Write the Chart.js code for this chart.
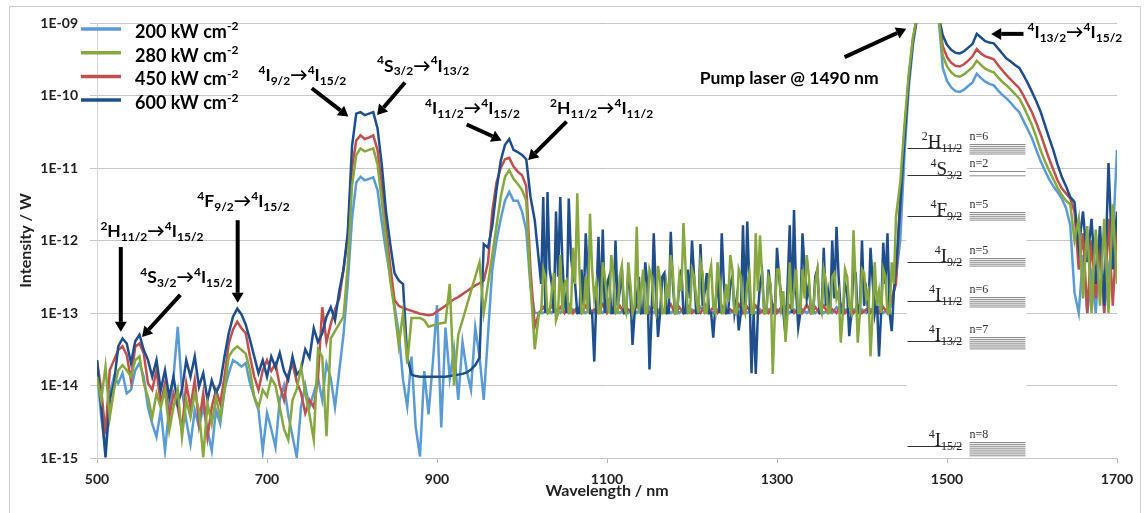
<!DOCTYPE html>
<html>
<head>
<meta charset="utf-8">
<script src="https://cdn.jsdelivr.net/npm/chart.js@4.4.1/dist/chart.umd.min.js"></script>
<style>
  html, body { margin: 0; padding: 0; background: #fff; }
  #wrap { width: 1144px; height: 513px; }
</style>
</head>
<body>
<div id="wrap"><canvas id="myChart" width="1144" height="513"></canvas></div>
<script>
// wavelength grids in nm (the two high-power scans are sampled finer in the noisy NIR band)
const wlCoarse = [
  500,505,510,515,520,525,530,535,540,545,550,555,560,565,570,575,580,585,590,595,
  600,605,610,615,620,625,630,635,640,645,650,655,660,665,670,675,680,685,690,695,
  700,705,710,715,720,725,730,735,740,745,750,755,760,765,770,775,780,785,790,795,
  800,805,810,815,820,825,830,835,840,845,850,855,860,865,870,875,880,885,890,895,
  900,905,910,915,920,925,930,935,940,945,950,955,960,965,970,975,980,985,990,995,
  1000,1005,1010,1015,1020,1025,1030,1035,1040,1045,1050,1055,1060,1065,1070,1075,1080,1085,1090,1095,
  1100,1105,1110,1115,1120,1125,1130,1135,1140,1145,1150,1155,1160,1165,1170,1175,1180,1185,1190,1195,
  1200,1205,1210,1215,1220,1225,1230,1235,1240,1245,1250,1255,1260,1265,1270,1275,1280,1285,1290,1295,
  1300,1305,1310,1315,1320,1325,1330,1335,1340,1345,1350,1355,1360,1365,1370,1375,1380,1385,1390,1395,
  1400,1405,1410,1415,1420,1425,1430,1435,1440,1445,1450,1455,1460,1465,1470,1475,1480,1485,1490,1495,
  1500,1505,1510,1515,1520,1525,1530,1535,1540,1545,1550,1555,1560,1565,1570,1575,1580,1585,1590,1595,
  1600,1605,1610,1615,1620,1625,1630,1635,1640,1645,1650,1655,1660,1665,1670,1675,1680,1685,1690,1695,
  1700
];

const wlFine = [
  500,505,510,515,520,525,530,535,540,545,550,555,560,565,570,575,580,585,590,595,
  600,605,610,615,620,625,630,635,640,645,650,655,660,665,670,675,680,685,690,695,
  700,705,710,715,720,725,730,735,740,745,750,755,760,765,770,775,780,785,790,795,
  800,805,810,815,820,825,830,835,840,845,850,855,860,865,870,875,880,885,890,895,
  900,905,910,915,920,925,930,935,940,945,950,955,960,965,970,975,980,985,990,995,
  1000,1005,1010,1015,1020,
  1022.5,1025,1027.5,1030,1032.5,1035,1037.5,1040,1042.5,1045,1047.5,1050,1052.5,1055,1057.5,1060,
  1062.5,1065,1067.5,1070,1072.5,1075,1077.5,1080,1082.5,1085,1087.5,1090,1092.5,1095,1097.5,1100,
  1102.5,1105,1107.5,1110,1112.5,1115,1117.5,1120,1122.5,1125,1127.5,1130,1132.5,1135,1137.5,1140,
  1142.5,1145,1147.5,1150,1152.5,1155,1157.5,1160,1162.5,1165,1167.5,1170,1172.5,1175,1177.5,1180,
  1182.5,1185,1187.5,1190,1192.5,1195,1197.5,1200,1202.5,1205,1207.5,1210,1212.5,1215,1217.5,1220,
  1222.5,1225,1227.5,1230,1232.5,1235,1237.5,1240,1242.5,1245,1247.5,1250,1252.5,1255,1257.5,1260,
  1262.5,1265,1267.5,1270,1272.5,1275,1277.5,1280,1282.5,1285,1287.5,1290,1292.5,1295,1297.5,1300,
  1302.5,1305,1307.5,1310,1312.5,1315,1317.5,1320,1322.5,1325,1327.5,1330,1332.5,1335,1337.5,1340,
  1342.5,1345,1347.5,1350,1352.5,1355,1357.5,1360,1362.5,1365,1367.5,1370,1372.5,1375,1377.5,1380,
  1382.5,1385,1387.5,1390,1392.5,1395,1397.5,1400,1402.5,1405,1407.5,1410,1412.5,1415,1417.5,1420,
  1422.5,1425,1427.5,1430,1432.5,1435,1437.5,1440,
  1445,1450,1455,1460,1465,1470,1475,1480,1485,1490,1495,
  1500,1505,1510,1515,1520,1525,1530,1535,1540,1545,1550,1555,1560,1565,1570,1575,1580,1585,1590,1595,
  1600,1605,1610,1615,1620,1625,1630,1635,1640,1645,1650,1655,1660,1665,1670,1675,1680,1685,1690,1695,
  1700
];

// log10 of intensity (W)
const log200 = [
  // 500-700
  -13.79,-14.44,-14.90,-14.11,-13.88,-13.97,-13.83,-14.11,-14.06,-13.79,-13.69,
  -13.88,-14.30,-14.53,-14.71,-14.34,-14.90,-14.30,-13.88,-13.19,-14.06,
  -14.48,-14.81,-14.34,-14.57,-14.30,-14.62,-14.90,-14.34,-14.53,-14.06,
  -13.83,-13.65,-13.69,-13.74,-13.69,-13.97,-14.16,-14.34,-14.90,-14.38,
  // 705-800
  -14.60,-14.85,-14.20,-14.00,-14.40,-14.70,-14.99,-14.30,-14.00,-14.30,
  -14.10,-13.90,-14.20,-13.70,-13.90,-14.30,-13.80,-13.30,-12.60,-11.70,
  // 805-850
  -11.20,-11.12,-11.17,-11.15,-11.13,-11.30,-11.75,-12.15,-12.50,-12.90,
  // 855-1020
  -13.27,-13.92,-14.29,-13.60,-14.58,-14.98,-13.80,-14.40,-13.70,-12.89,
  -14.58,-13.20,-13.90,-13.50,-14.20,-13.40,-13.80,-14.06,-13.20,-13.60,
  -14.20,-13.30,-12.40,-12.00,-11.70,-11.45,-11.33,-11.45,-11.45,-11.60,
  -11.86,-12.64,-13.00,-13.00,
  // 1025-1440
  -13.00,-12.95,-13.00,-12.95,-13.00,-12.92,-13.00,-12.95,
  -13.00,-12.95,-13.00,-12.95,-13.00,-12.95,-13.00,-12.92,
  -13.00,-12.95,-13.00,-12.95,-13.00,-12.95,-13.00,-12.95,
  -13.00,-12.92,-13.00,-12.95,-13.00,-12.95,-13.00,-12.95,
  -13.00,-12.95,-13.00,-12.95,-13.00,-12.92,-13.00,-12.95,
  -13.00,-12.95,-13.00,-12.95,-13.00,-12.95,-13.00,-12.92,
  -13.00,-12.95,-13.00,-12.95,-13.00,-12.95,-13.00,-12.95,
  -13.00,-12.92,-13.00,-12.95,-13.00,-12.95,-13.00,-12.95,
  -13.00,-12.95,-13.00,-12.95,-13.00,-12.92,-13.00,-12.95,
  -13.00,-12.95,-13.00,-12.95,-13.00,-12.95,-13.00,-12.92,
  -13.00,-12.95,-12.90,-12.50,
  // 1445-1495 pump
  -12.00,-10.80,-9.90,-9.30,-8.92,-8.60,-8.40,-8.40,-8.60,-8.90,-9.62,
  // 1500-1645
  -9.80,-9.89,-9.94,-9.95,-9.92,-9.87,-9.82,-9.70,-9.76,-9.81,
  -9.84,-9.86,-9.93,-9.99,-10.04,-10.10,-10.17,-10.23,-10.35,-10.47,
  -10.59,-10.75,-10.90,-11.03,-11.15,-11.25,-11.33,-11.42,-11.55,-11.79,
  // 1650-1700
  -12.72,-13.00,-12.20,-13.00,-12.50,-13.00,-12.10,-13.00,-12.40,-12.00,-10.75
];

const log450 = [
  -13.65,-14.06,-14.67,-13.79,-13.65,-13.51,-13.46,-13.58,-13.93,-13.46,-13.42,
  -13.56,-13.97,-14.06,-13.79,-14.25,-13.97,-14.44,-14.11,-14.30,-14.62,
  -13.97,-14.30,-13.93,-14.53,-14.11,-14.71,-14.30,-14.06,-14.25,-13.88,
  -13.42,-13.23,-13.12,-13.21,-13.28,-13.60,-13.88,-14.06,-13.79,-13.65,
  -13.80,-13.70,-14.00,-14.20,-13.85,-13.70,-13.95,-14.10,-14.38,-14.20,
  -14.30,-13.90,-12.92,-13.40,-13.15,-12.95,-12.80,-12.40,-11.95,-11.00,
  -10.62,-10.55,-10.60,-10.58,-10.55,-10.75,-11.25,-11.85,-12.35,-12.82,
  -12.90,-12.93,-12.95,-12.97,-12.99,-13.01,-13.02,-13.03,-13.02,-12.98,
  -12.94,-12.90,-12.85,-12.81,-12.78,-12.74,-12.70,-12.66,-12.62,-12.59,
  -12.55,-12.30,-11.60,-11.20,-11.00,-10.88,-10.86,-10.98,-11.05,-11.10,
  -11.25,-12.40,-13.19,-13.00,
  -12.92,-13.00,-12.90,-13.00,-12.92,-13.00,-12.88,-13.00,
  -12.92,-13.00,-12.90,-13.00,-12.95,-13.00,-12.88,-13.00,
  -12.92,-13.00,-12.90,-13.00,-12.95,-13.00,-12.88,-13.00,
  -12.92,-13.00,-12.90,-13.00,-12.95,-13.00,-12.88,-13.00,
  -12.92,-13.00,-12.90,-13.00,-12.95,-13.00,-12.88,-13.00,
  -12.92,-13.00,-12.90,-13.00,-12.95,-13.00,-12.88,-13.00,
  -12.92,-13.00,-12.90,-13.00,-12.95,-13.00,-12.88,-13.00,
  -12.92,-13.00,-12.90,-13.00,-12.95,-13.00,-12.88,-13.00,
  -12.92,-13.00,-12.90,-13.00,-12.95,-13.00,-12.88,-13.00,
  -12.92,-13.00,-12.90,-13.00,-12.95,-13.00,-12.88,-13.00,
  -12.92,-13.00,-12.80,-12.60,
  -11.40,-10.50,-9.75,-9.22,-8.90,-8.60,-8.40,-8.40,-8.60,-8.90,-9.32,
  -9.47,-9.55,-9.59,-9.60,-9.57,-9.52,-9.46,-9.36,-9.42,-9.46,
  -9.48,-9.50,-9.58,-9.65,-9.72,-9.78,-9.84,-9.90,-10.00,-10.12,
  -10.23,-10.38,-10.53,-10.70,-10.87,-11.02,-11.17,-11.28,-11.35,-11.42,
  -11.60,-12.40,-11.90,-13.00,-12.00,-12.80,-12.00,-13.00,-11.70,-12.90,-11.80
];

const log280 = [
  -13.88,-14.20,-13.74,-14.44,-14.06,-13.79,-13.72,-13.79,-13.88,-13.65,-13.60,
  -13.97,-14.16,-14.44,-14.11,-14.30,-14.06,-14.62,-14.30,-14.06,-14.71,
  -14.20,-14.44,-14.11,-14.34,-14.99,-14.25,-14.53,-14.16,-14.44,-14.06,
  -13.60,-13.51,-13.46,-13.51,-13.56,-13.79,-14.16,-14.30,-14.06,-14.15,
  -13.90,-14.00,-14.30,-14.60,-14.75,-14.20,-14.05,-13.75,-14.10,-14.40,
  -14.75,-13.50,-13.60,-14.70,-13.35,-13.25,-13.15,-13.05,-12.35,-11.25,
  -10.82,-10.73,-10.77,-10.75,-10.73,-10.95,-11.45,-12.00,-12.55,-12.95,
  -13.45,-13.00,-13.70,-13.07,-13.07,-13.07,-13.10,-13.19,-13.17,-13.15,
  -13.14,-13.13,-12.60,-14.00,-13.30,-13.10,-12.90,-12.70,-12.50,-12.30,
  -13.00,-12.60,-12.20,-11.80,-11.40,-11.12,-11.03,-11.15,-11.22,-11.30,
  -11.45,-12.60,-13.50,-13.00,
  // 1022.5-1440 every 2.5 nm
  -13.00,-12.40,-12.50,-13.00,-13.00,-12.70,-12.45,-13.10,-13.00,-12.20,-13.00,-12.60,-12.55,-13.00,-13.00,-12.10,
  -12.60,-11.35,-12.40,-13.00,-13.00,-12.50,-13.00,-11.63,-12.40,-12.80,-12.60,-13.00,-13.00,-12.30,-12.50,-12.80,
  -13.00,-12.20,-12.45,-13.00,-13.00,-12.50,-12.35,-12.90,-13.00,-12.30,-12.60,-13.00,-12.90,-11.81,-13.00,-12.70,
  -12.40,-13.00,-13.00,-12.40,-12.50,-12.90,-13.00,-12.35,-12.55,-13.00,-13.00,-12.60,-12.80,-12.20,-12.45,-13.00,
  -13.00,-12.50,-12.70,-11.76,-12.40,-13.00,-13.00,-12.40,-12.50,-12.80,-13.00,-12.30,-12.45,-13.00,-13.00,-12.50,
  -12.35,-12.90,-13.00,-12.30,-12.55,-13.00,-13.00,-12.60,-12.85,-12.20,-12.40,-13.00,-13.00,-12.40,-12.50,-12.90,
  -13.00,-12.60,-12.45,-13.00,-13.00,-11.90,-12.70,-11.93,-12.50,-13.00,-13.00,-12.50,-12.60,-13.84,-13.00,-12.40,
  -12.40,-12.90,-12.70,-13.40,-13.00,-12.30,-12.95,-12.70,-12.40,-13.00,-13.00,-12.40,-12.80,-12.20,-12.50,-13.00,
  -13.00,-12.60,-12.40,-12.90,-13.00,-12.40,-12.55,-13.00,-13.00,-12.50,-12.45,-12.80,-12.70,-13.41,-13.00,-12.40,
  -12.50,-12.90,-13.00,-11.86,-12.60,-13.41,-13.00,-12.40,-12.45,-12.80,-12.70,-13.60,-13.00,-12.30,-12.90,-12.70,
  -13.00,-12.40,-12.50,-13.00,-13.00,-12.30,-12.60,-11.67,
  // 1445-1700
  -11.20,-10.40,-9.70,-9.20,-8.88,-8.60,-8.40,-8.40,-8.60,-8.90,-9.45,
  -9.60,-9.68,-9.73,-9.74,-9.71,-9.66,-9.61,-9.52,-9.58,-9.63,
  -9.66,-9.68,-9.75,-9.81,-9.86,-9.92,-9.98,-10.04,-10.15,-10.28,
  -10.41,-10.57,-10.75,-10.90,-11.03,-11.15,-11.27,-11.37,-11.45,-11.50,
  -12.00,-11.70,-12.80,-11.80,-13.00,-11.85,-12.90,-11.70,-13.00,-11.50,-12.60
];

const log600 = [
  -13.65,-14.30,-14.99,-14.20,-13.97,-13.46,-13.35,-13.42,-13.69,-13.39,-13.30,
  -13.51,-13.65,-13.88,-13.65,-14.06,-13.79,-14.16,-13.88,-14.25,-14.06,
  -13.65,-13.88,-13.60,-14.02,-13.83,-14.20,-13.93,-14.11,-13.97,-13.60,
  -13.28,-13.05,-12.94,-13.02,-13.16,-13.37,-13.60,-13.83,-13.65,-13.88,
  -13.60,-13.75,-13.55,-13.80,-13.92,-13.60,-13.85,-13.78,-13.50,-13.62,
  -13.21,-13.40,-13.28,-13.05,-12.92,-13.10,-12.70,-12.40,-11.90,-10.70,
  -10.25,-10.23,-10.27,-10.25,-10.23,-10.45,-10.95,-11.60,-12.05,-12.45,
  -12.55,-12.60,-13.60,-13.85,-13.87,-13.88,-13.88,-13.88,-13.88,-13.88,
  -13.88,-13.88,-13.87,-13.86,-13.85,-13.84,-13.82,-13.78,-13.72,-13.62,
  -12.05,-12.10,-11.80,-11.30,-10.90,-10.68,-10.60,-10.75,-10.78,-10.82,
  -10.88,-11.40,-11.72,-12.30,
  // 1022.5-1440 every 2.5 nm
  -12.60,-11.40,-13.00,-11.33,-12.40,-12.60,-13.00,-11.60,-12.50,-11.40,-12.30,-12.80,-13.00,-11.42,-12.20,-12.50,
  -12.60,-13.00,-13.00,-12.40,-12.90,-11.90,-12.50,-13.00,-13.00,-13.67,-12.80,-11.95,-13.00,-11.85,-13.00,-12.60,
  -12.50,-13.00,-13.00,-12.00,-12.90,-12.70,-12.40,-13.00,-13.00,-12.45,-12.70,-13.44,-13.00,-12.80,-12.50,-13.00,
  -13.00,-12.30,-12.60,-13.78,-13.00,-11.90,-12.70,-13.33,-13.00,-12.50,-12.45,-13.00,-13.00,-11.88,-12.60,-13.00,
  -13.00,-12.60,-12.40,-13.00,-13.00,-12.40,-12.80,-12.00,-12.50,-13.00,-13.00,-12.05,-12.90,-12.70,-12.45,-13.00,
  -13.00,-13.34,-12.90,-12.50,-13.00,-11.90,-12.60,-13.00,-13.00,-12.60,-12.50,-13.00,-12.80,-13.24,-13.00,-11.79,
  -12.90,-11.74,-12.60,-13.83,-13.00,-13.84,-13.00,-12.60,-12.45,-13.00,-13.00,-12.40,-12.70,-13.00,-13.00,-12.10,
  -12.50,-12.80,-13.00,-13.31,-12.60,-11.79,-13.00,-11.58,-12.70,-13.20,-13.00,-11.90,-12.40,-12.80,-12.60,-13.00,
  -13.00,-12.50,-12.40,-13.00,-13.00,-12.10,-12.90,-12.70,-13.00,-12.00,-12.80,-11.81,-12.50,-13.00,-13.00,-12.60,
  -12.70,-13.32,-13.00,-12.40,-12.45,-13.00,-13.00,-12.00,-12.90,-12.70,-13.00,-12.10,-12.55,-13.00,-12.80,-13.60,
  -13.00,-12.03,-12.60,-11.90,-13.00,-13.25,-12.70,-12.40,
  // 1445-1700
  -11.51,-10.60,-9.80,-9.25,-8.90,-8.60,-8.40,-8.40,-8.60,-8.90,-9.17,
  -9.30,-9.37,-9.41,-9.42,-9.39,-9.34,-9.29,-9.15,-9.20,-9.25,
  -9.27,-9.28,-9.35,-9.42,-9.49,-9.53,-9.58,-9.62,-9.72,-9.83,
  -9.95,-10.08,-10.22,-10.40,-10.58,-10.75,-10.95,-11.12,-11.25,-11.40,
  -11.47,-12.10,-11.60,-12.30,-11.70,-12.60,-11.80,-12.90,-10.93,-12.40,-11.60
];

const seriesNames = ['200 kW cm^-2', '280 kW cm^-2', '450 kW cm^-2', '600 kW cm^-2'];
const seriesColors = ['#5b9bd5', '#86a83e', '#c0504d', '#1f4e8c'];
const seriesLogs = [log200, log280, log450, log600];
const seriesGrid = [wlCoarse, wlFine, wlCoarse, wlFine];
const drawOrder = [3, 0, 2, 1]; // green on top, light blue at the bottom

const xTicks = [500, 700, 900, 1100, 1300, 1500, 1700];
const yTicks = [1e-15, 1e-14, 1e-13, 1e-12, 1e-11, 1e-10, 1e-9];
const yTickLabels = ['1E-15', '1E-14', '1E-13', '1E-12', '1E-11', '1E-10', '1E-09'];

// annotations: label start (nm, log10 W) and arrow from/to
const notes = [
  { text: '^2H_11/2→^4I_15/2', at: [504, -11.95], from: [528, -12.09], to: [528, -13.26] },
  { text: '^4S_3/2→^4I_15/2', at: [551, -12.59], from: [598, -12.75], to: [553, -13.33] },
  { text: '^4F_9/2→^4I_15/2', at: [618, -11.54], from: [665.5, -11.72], to: [665.5, -12.86] },
  { text: '^4I_9/2→^4I_15/2', at: [690, -9.80], from: [752.7, -9.90], to: [795.7, -10.29] },
  { text: '^4S_3/2→^4I_13/2', at: [829.5, -9.67], from: [862.4, -9.82], to: [829.5, -10.27] },
  { text: '^4I_11/2→^4I_15/2', at: [886, -10.26], from: [935, -10.40], to: [976, -10.62] },
  { text: '^2H_11/2→^4I_11/2', at: [1033, -10.26], from: [1052.4, -10.36], to: [1007.3, -10.89] },
  { text: 'Pump laser @ 1490 nm', at: [1209, -9.84], from: [1379.5, -9.47], to: [1452, -9.08] },
  { text: '^4I_13/2→^4I_15/2', at: [1594.7, -9.21], from: [1590, -9.15], to: [1552, -9.15] }
];

// Er3+ energy level inset
const levels = [
  { name: '^2H_11/2', n: 6, e: -10.72 },
  { name: '^4S_3/2', n: 2, e: -11.10 },
  { name: '^4F_9/2', n: 5, e: -11.66 },
  { name: '^4I_9/2', n: 5, e: -12.30 },
  { name: '^4I_11/2', n: 6, e: -12.83 },
  { name: '^4I_13/2', n: 7, e: -13.38 },
  { name: '^4I_15/2', n: 8, e: -14.84 }
];

seriesLogs.forEach((s, i) => {
  if (s.length !== seriesGrid[i].length) throw new Error('series ' + i + ' has ' + s.length + ' of ' + seriesGrid[i].length + ' points');
});

function richText(ctx, str, x, y, size, family, weight, align, ratio) {
  const parts = [];
  let i = 0;
  while (i < str.length) {
    const c = str[i];
    if (c === '^' || c === '_') {
      let t = '';
      i++;
      while (i < str.length && /[0-9\/\-]/.test(str[i])) { t += str[i]; i++; }
      parts.push({ t: t, m: c === '^' ? 'sup' : 'sub' });
    } else {
      let t = '';
      while (i < str.length && str[i] !== '^' && str[i] !== '_') { t += str[i]; i++; }
      parts.push({ t: t, m: 'n' });
    }
  }
  const small = Math.round(size * (ratio || 0.66));
  const fontFor = m => weight + ' ' + (m === 'n' ? size : small) + 'px ' + family;
  let w = 0;
  parts.forEach(p => { ctx.font = fontFor(p.m); p.w = ctx.measureText(p.t).width; w += p.w; });
  let cx = align === 'right' ? x - w : x;
  ctx.textAlign = 'left';
  ctx.textBaseline = 'alphabetic';
  parts.forEach(p => {
    ctx.font = fontFor(p.m);
    const dy = p.m === 'sup' ? -size * 0.42 : (p.m === 'sub' ? size * 0.22 : 0);
    ctx.fillText(p.t, cx, y + dy);
    cx += p.w;
  });
}

function arrow(ctx, x1, y1, x2, y2) {
  const a = Math.atan2(y2 - y1, x2 - x1);
  const hl = 10, hw = 6;
  const bx = x2 - hl * Math.cos(a), by = y2 - hl * Math.sin(a);
  ctx.strokeStyle = '#000';
  ctx.fillStyle = '#000';
  ctx.lineWidth = 4;
  ctx.lineCap = 'butt';
  ctx.beginPath(); ctx.moveTo(x1, y1); ctx.lineTo(bx, by); ctx.stroke();
  ctx.beginPath();
  ctx.moveTo(x2, y2);
  ctx.lineTo(bx + hw * Math.sin(a), by - hw * Math.cos(a));
  ctx.lineTo(bx - hw * Math.sin(a), by + hw * Math.cos(a));
  ctx.closePath();
  ctx.fill();
}

const decor = {
  id: 'decor',
  beforeDatasetsDraw(chart) {
    const ctx = chart.ctx;
    const sx = chart.scales.x, sy = chart.scales.y;
    const px = v => sx.getPixelForValue(v);
    const py = v => sy.getPixelForValue(Math.pow(10, v));
    ctx.save();
    // white inset box hides the grid lines
    ctx.fillStyle = '#fff';
    ctx.fillRect(px(1452.4), py(-10.41), px(1593.5) - px(1452.4), py(-14.98) - py(-10.41));
    levels.forEach(l => {
      const y = Math.round(py(l.e)) + 0.5;
      ctx.strokeStyle = '#333';
      ctx.lineWidth = 1;
      ctx.beginPath(); ctx.moveTo(px(1453.5), y); ctx.lineTo(px(1517), y); ctx.stroke();
      ctx.fillStyle = '#222';
      richText(ctx, l.name, px(1518), y - 1, 19, '"Liberation Serif"', 'normal', 'right', 0.62);
      const gap = l.n === 2 ? 4.3 : 1.9;
      const top = y - 4;
      ctx.strokeStyle = '#8a8a8a';
      for (let k = 0; k < l.n; k++) {
        const yy = top + k * gap;
        ctx.beginPath(); ctx.moveTo(px(1526.5), yy); ctx.lineTo(px(1592.3), yy); ctx.stroke();
      }
      ctx.fillStyle = '#333';
      ctx.font = '12px "Liberation Serif"';
      ctx.textAlign = 'left';
      ctx.textBaseline = 'alphabetic';
      ctx.fillText('n=' + l.n, px(1526.5), top - 5);
    });
    ctx.restore();
  },
  afterDatasetsDraw(chart) {
    const ctx = chart.ctx;
    const sx = chart.scales.x, sy = chart.scales.y;
    const px = v => sx.getPixelForValue(v);
    const py = v => sy.getPixelForValue(Math.pow(10, v));
    ctx.save();
    notes.forEach(n => {
      arrow(ctx, px(n.from[0]), py(n.from[1]), px(n.to[0]), py(n.to[1]));
      ctx.fillStyle = '#000';
      richText(ctx, n.text, px(n.at[0]), py(n.at[1]), 17.5, 'Lato', 'bold', 'left');
    });
    // legend
    seriesNames.forEach((name, i) => {
      const base = 38 + i * 23.7;
      ctx.strokeStyle = seriesColors[i];
      ctx.lineWidth = 3.5;
      ctx.beginPath(); ctx.moveTo(81, base - 9); ctx.lineTo(121, base - 9); ctx.stroke();
      ctx.fillStyle = '#000';
      richText(ctx, name, 135, base, 18, 'Lato', 'bold', 'left');
    });
    ctx.restore();
  },
  afterDraw(chart) {
    const ctx = chart.ctx;
    ctx.save();
    ctx.strokeStyle = '#cfcfcf';
    ctx.lineWidth = 1;
    ctx.strokeRect(9.5, 6.5, 1131, 515);
    ctx.restore();
  }
};

const datasets = seriesLogs.map((logs, i) => ({
  label: seriesNames[i],
  data: seriesGrid[i].map((w, k) => ({ x: w, y: Math.pow(10, logs[k]) })),
  borderColor: seriesColors[i],
  backgroundColor: seriesColors[i],
  borderWidth: 2.5,
  pointRadius: 0,
  tension: 0,
  fill: false,
  clip: 0,
  order: drawOrder[i]
}));

const tickFont = { family: 'Lato', size: 14, weight: 'bold' };
const titleFont = { family: 'Lato', size: 16, weight: 'bold' };

new Chart(document.getElementById('myChart'), {
  type: 'line',
  data: { datasets: datasets },
  plugins: [decor],
  options: {
    responsive: false,
    animation: false,
    devicePixelRatio: 1,
    parsing: false,
    layout: { padding: { left: 0, right: 27, top: 23, bottom: 0 } },
    plugins: { legend: { display: false }, tooltip: { enabled: false } },
    scales: {
      x: {
        type: 'linear',
        min: 500,
        max: 1700,
        afterBuildTicks: s => { s.ticks = xTicks.map(v => ({ value: v })); },
        afterFit: s => { s.height = 55; },
        ticks: { font: tickFont, color: '#222', padding: 8, maxRotation: 0, callback: v => String(v) },
        grid: { drawOnChartArea: false, drawTicks: true, tickLength: 5, color: '#b5b5b5' },
        border: { display: true, color: '#c6c6c6' },
        title: { display: true, text: 'Wavelength / nm', font: titleFont, color: '#222', padding: { top: 0, bottom: 13 } }
      },
      y: {
        type: 'logarithmic',
        min: 1e-15,
        max: 1e-9,
        afterBuildTicks: s => { s.ticks = yTicks.map(v => ({ value: v })); },
        afterFit: s => { s.width = 97; },
        ticks: { font: tickFont, color: '#222', padding: 12, callback: (v, i) => yTickLabels[i] },
        grid: { color: '#c6c6c6', drawTicks: true, tickLength: 7 },
        border: { display: true, color: '#d6d6d6' },
        title: { display: true, text: 'Intensity / W', font: titleFont, color: '#222', padding: { top: 16 } }
      }
    }
  }
});
</script>
</body>
</html>
